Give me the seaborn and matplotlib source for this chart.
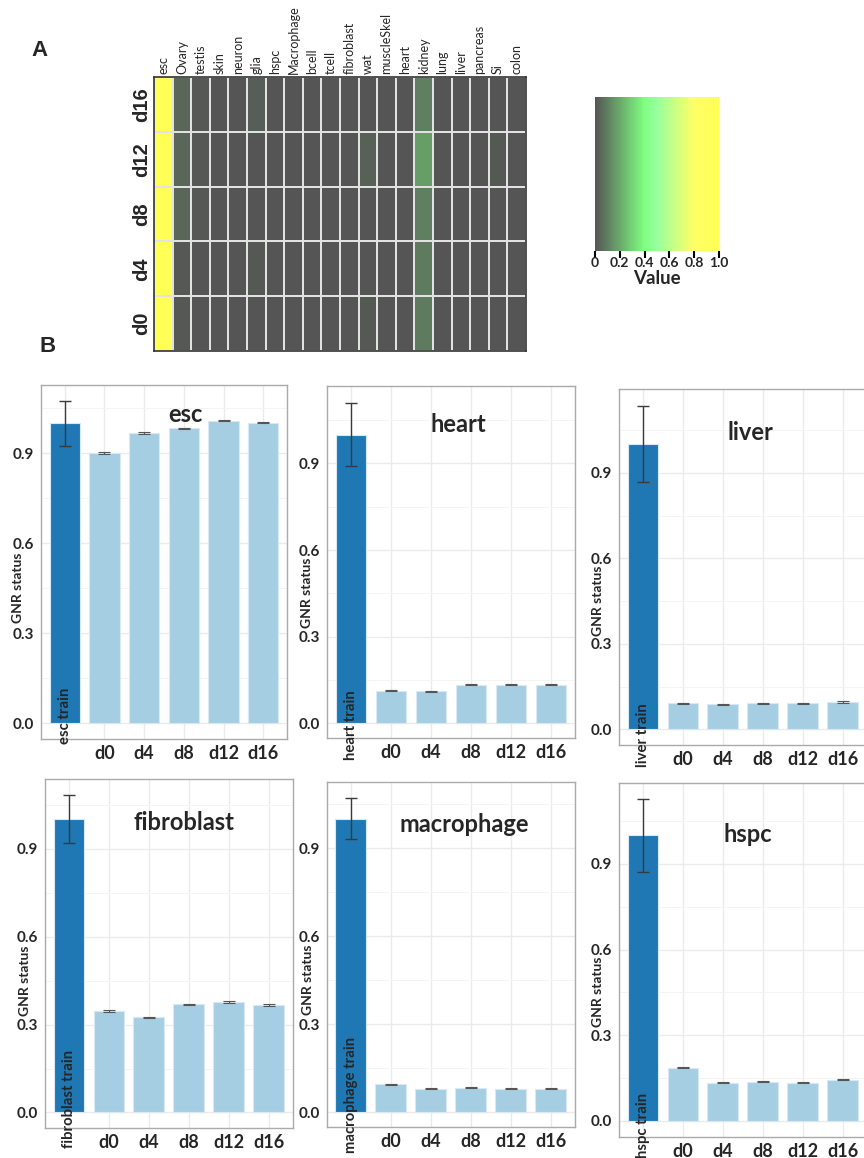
import numpy as np
import pandas as pd
import matplotlib
matplotlib.use("Agg")
import matplotlib.pyplot as plt
import seaborn as sns
from matplotlib.colors import LinearSegmentedColormap
from matplotlib.cm import ScalarMappable
from matplotlib.colors import Normalize

# ---------------- data ----------------
tissues = ["esc", "Ovary", "testis", "skin", "neuron", "glia", "hspc", "Macrophage",
           "bcell", "tcell", "fibroblast", "wat", "muscleSkel", "heart", "kidney",
           "lung", "liver", "pancreas", "Si", "colon"]
hm_rows = ["d16", "d12", "d8", "d4", "d0"]
hm_d16 = [1.0, 0.04, 0.01, 0, 0, 0.02, 0, 0, 0, 0, 0, 0, 0, 0, 0.10, 0, 0, 0, 0, 0]
hm_d12 = [1.0, 0.04, 0.01, 0, 0, 0, 0, 0, 0, 0, 0, 0.03, 0, 0, 0.17, 0, 0, 0, 0.01, 0]
hm_d8 = [1.0, 0.04, 0.01, 0, 0, 0, 0, 0, 0, 0, 0, 0, 0, 0, 0.10, 0, 0, 0, 0, 0]
hm_d4 = [1.0, 0.01, 0, 0, 0, 0.01, 0, 0, 0, 0, 0, 0, 0, 0, 0.09, 0, 0, 0, 0, 0]
hm_d0 = [1.0, 0.01, 0, 0, 0, 0, 0, 0, 0, 0, 0, 0.01, 0, 0, 0.09, 0, 0, 0, 0, 0]
cbar_ticks = [0, 0.2, 0.4, 0.6, 0.8, 1.0]
cbar_ticklabels = ["0", "0.2", "0.4", "0.6", "0.8", "1.0"]

days = ["d0", "d4", "d8", "d12", "d16"]
panel_names = ["esc", "heart", "liver", "fibroblast", "macrophage", "hspc"]
train_mean = [1.0, 1.0, 1.0, 1.0, 1.0, 1.0]
train_err = [0.075, 0.11, 0.134, 0.082, 0.07, 0.128]
esc_days = [0.900, 0.967, 0.983, 1.008, 1.001]
heart_days = [0.113, 0.111, 0.134, 0.134, 0.134]
liver_days = [0.091, 0.088, 0.091, 0.091, 0.096]
fibroblast_days = [0.346, 0.325, 0.369, 0.377, 0.367]
macrophage_days = [0.094, 0.080, 0.083, 0.080, 0.080]
hspc_days = [0.187, 0.134, 0.137, 0.134, 0.145]
day_values = [esc_days, heart_days, liver_days, fibroblast_days, macrophage_days, hspc_days]
day_err = 0.002
y_ticks = [0.0, 0.3, 0.6, 0.9]
y_ticklabels = ["0.0", "0.3", "0.6", "0.9"]
y_label = "GNR status"

# ---------------- layout ----------------
W, H = 864, 1158
sns.set_style("white")
plt.rcParams["font.family"] = ["Lato", "DejaVu Sans"]
fig = plt.figure(figsize=(W / 100, H / 100), dpi=100)


def rect(x0, y0, x1, y1):
    return [x0 / W, 1 - y1 / H, (x1 - x0) / W, (y1 - y0) / H]


def fxy(x, y):
    return x / W, 1 - y / H


ARIAL = ["Liberation Sans", "DejaVu Sans"]

# Panel labels
fig.text(*fxy(40, 50), "A", fontsize=16, fontweight="bold", family=ARIAL, ha="center", va="center")
fig.text(*fxy(48, 347), "B", fontsize=16, fontweight="bold", family=ARIAL, ha="center", va="center")

# ---------------- heatmap ----------------
cmap = LinearSegmentedColormap.from_list(
    "gv", [(0.0, "#555555"), (0.4, "#80FF80"), (0.5, "#98FFA0"), (0.8, "#FFFF66"), (1.0, "#FFFF55")])
hm = pd.DataFrame([hm_d16, hm_d12, hm_d8, hm_d4, hm_d0], index=hm_rows, columns=tissues)
axh = fig.add_axes(rect(154, 77, 526, 351))
sns.heatmap(hm, cmap=cmap, vmin=0, vmax=1, cbar=False, linewidths=1.2,
            linecolor="#e2e2e2", ax=axh)
axh.xaxis.tick_top()
axh.set_xticks(np.arange(len(tissues)) + 0.5)
axh.set_xticklabels(tissues, rotation=90, fontsize=9, ha="center", va="bottom")
axh.set_yticks(np.arange(len(hm_rows)) + 0.5)
axh.set_yticklabels(hm_rows, rotation=90, fontsize=14.5, fontweight="bold",
                    family=ARIAL, va="center")
axh.tick_params(length=0, pad=2)
axh.set_xlabel("")
axh.set_ylabel("")
for s in axh.spines.values():
    s.set_visible(True)
    s.set_color("#333333")
    s.set_linewidth(1.2)

# colorbar
cax = fig.add_axes(rect(595, 97, 719, 251))
cb = fig.colorbar(ScalarMappable(norm=Normalize(0, 1), cmap=cmap), cax=cax,
                  orientation="horizontal")
cb.outline.set_visible(False)
cb.set_ticks(cbar_ticks)
cb.set_ticklabels(cbar_ticklabels)
cax.tick_params(axis="x", direction="out", length=5, width=1.5, color="black",
                labelsize=10, pad=-1)
for lab in cax.get_xticklabels():
    lab.set_fontweight("bold")
cax.set_xlabel("Value", fontsize=13.5, fontweight="bold", labelpad=1)

# ---------------- bar panels ----------------
# rect px, ylim, title px, train-label offset px, ylabel px
layout = [
    dict(r=(41, 385, 287, 739), yl=(-0.053, 1.127), t=(185, 415), off=5, yp=(18, 588)),
    dict(r=(327, 386, 575, 738), yl=(-0.051, 1.168), t=(458, 425), off=22, yp=(307, 593)),
    dict(r=(619, 389, 866.5, 745), yl=(-0.055, 1.194), t=(750, 433), off=22, yp=(598, 601)),
    dict(r=(45, 779, 292.7, 1128), yl=(-0.053, 1.138), t=(184, 822), off=20, yp=(25, 981)),
    dict(r=(326.7, 782, 574.5, 1127), yl=(-0.051, 1.126), t=(464, 825), off=26, yp=(308, 980)),
    dict(r=(619, 783, 866.5, 1137), yl=(-0.056, 1.183), t=(748, 834), off=21, yp=(598, 992)),
]

for i, name in enumerate(panel_names):
    L = layout[i]
    ax = fig.add_axes(rect(*L["r"]))
    cats = [f"{name} train"] + days
    df = pd.DataFrame({"cat": cats,
                       "val": [train_mean[i]] + day_values[i],
                       "grp": ["train"] + ["day"] * len(days)})
    sns.barplot(data=df, x="cat", y="val", hue="grp", dodge=False, legend=False,
                palette={"train": "#1F78B4", "day": "#A6CEE3"}, width=0.77,
                saturation=1, edgecolor="#d8e8f4", linewidth=0.8, ax=ax, zorder=2)
    ax.errorbar([0], [train_mean[i]], yerr=[train_err[i]], fmt="none",
                ecolor="#3a3a3a", elinewidth=1, capsize=4.5, capthick=1, zorder=3)
    ax.errorbar(np.arange(1, len(cats)), day_values[i], yerr=[day_err] * len(days),
                fmt="none", ecolor="#555555", elinewidth=0.8, capsize=4.5,
                capthick=0.8, zorder=3)
    ax.set_xlim(-0.6, len(cats) - 0.4)
    ax.set_ylim(*L["yl"])
    ax.set_yticks(y_ticks)
    ax.set_yticklabels(y_ticklabels)
    ax.set_yticks([0.15, 0.45, 0.75, 1.05], minor=True)
    ax.grid(which="major", color="#ebebeb", linewidth=1)
    ax.grid(which="minor", axis="y", color="#f4f4f4", linewidth=0.7)
    ax.set_axisbelow(True)
    ax.set_xticks(np.arange(len(cats)))
    ax.set_xticklabels([""] + days)
    ax.tick_params(axis="both", which="major", length=3, color="#555555", pad=2)
    ax.tick_params(axis="y", labelsize=11)
    ax.tick_params(axis="x", labelsize=13, pad=1)
    ax.tick_params(which="minor", length=0)
    for lab in ax.get_xticklabels() + ax.get_yticklabels():
        lab.set_fontweight("bold")
    ax.set_xlabel("")
    ax.set_ylabel("")
    for s in ax.spines.values():
        s.set_visible(True)
        s.set_color("#aaaaaa")
        s.set_linewidth(1)
    ax.annotate(f"{name} train", xy=(0, 0), xycoords=("data", "axes fraction"),
                xytext=(0, -L["off"]), textcoords="offset pixels", rotation=90,
                ha="center", va="bottom", fontsize=10.7, fontweight="bold",
                annotation_clip=False)
    fig.text(*fxy(*L["t"]), name, fontsize=17, fontweight="bold",
             ha="center", va="center")
    fig.text(*fxy(*L["yp"]), y_label, fontsize=10, fontweight="bold",
             rotation=90, ha="center", va="center")

fig.savefig("out.png", dpi=100)
